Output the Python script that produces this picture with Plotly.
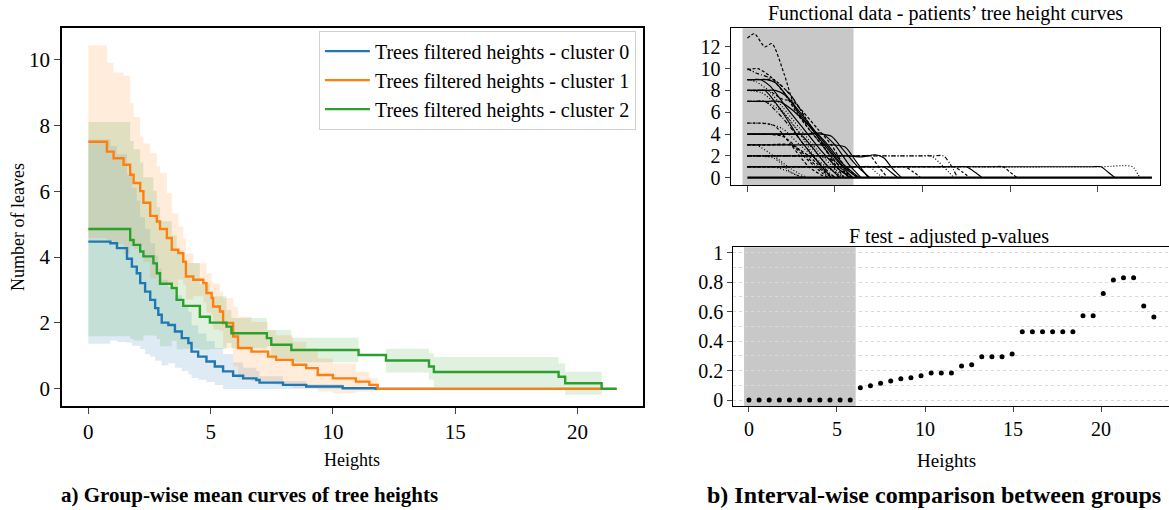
import plotly.graph_objects as go

# ---------------- Left panel data (step means and std) ----------------
blue_x = [0, 0.9, 1.17, 1.58, 1.78, 1.98, 2.12, 2.32, 2.53, 2.73, 2.86, 3.0, 3.27, 3.54, 3.82, 4.09,
          4.22, 4.49, 4.83, 5.17, 5.51, 5.92, 6.33, 6.87, 7.0, 7.96, 8.91, 10.4, 11.76, 21.6]
blue_mean = [4.47, 4.42, 4.27, 3.95, 3.71, 3.51, 3.21, 2.95, 2.70, 2.45, 2.25, 2.01, 1.94, 1.74, 1.54, 1.39,
             1.13, 0.98, 0.83, 0.68, 0.53, 0.40, 0.32, 0.27, 0.19, 0.12, 0.07, 0.02, 0.0, 0.0]
blue_std = [3.1, 2.95, 2.85, 2.55, 2.4, 2.2, 2.0, 1.9, 1.72, 1.6, 1.4, 1.3, 1.16, 1.1, 1.0, 0.95,
            0.8, 0.7, 0.62, 0.56, 0.53, 0.4, 0.32, 0.27, 0.19, 0.12, 0.07, 0.02, 0.0, 0.0]

orange_x = [0, 0.76, 1.03, 1.44, 1.71, 1.85, 2.12, 2.25, 2.53, 2.80, 2.93, 3.21, 3.41, 3.68, 3.88, 3.99,
            4.29, 4.70, 4.83, 5.04, 5.10, 5.38, 5.51, 5.92, 6.12, 6.67, 7.35, 7.68, 8.36, 8.91, 9.38,
            10.0, 10.94, 11.49, 11.83, 21.6]
orange_mean = [7.5, 7.2, 7.0, 6.8, 6.5, 6.25, 6.0, 5.65, 5.25, 5.08, 4.85, 4.58, 4.22, 4.12, 3.86, 3.41,
               3.31, 3.21, 2.91, 2.76, 2.5, 2.35, 2.0, 1.59, 1.24, 1.13, 0.98, 0.88, 0.73, 0.63, 0.42,
               0.32, 0.22, 0.12, 0.0, 0.0]
orange_std = [2.92, 2.7, 2.6, 2.7, 2.17, 2.0, 1.66, 1.8, 1.9, 1.67, 1.7, 1.36, 1.1, 0.8, 0.7, 0.7,
              0.5, 0.6, 0.6, 0.5, 0.7, 0.6, 0.75, 0.9, 0.95, 0.9, 0.8, 0.75, 0.7, 0.6, 0.5,
              0.45, 0.3, 0.2, 0.0, 0.0]

green_x = [0, 1.71, 1.85, 2.12, 2.25, 2.66, 2.80, 2.93, 3.41, 3.61, 3.88, 4.56, 4.97, 5.65, 5.85, 7.3,
           7.48, 8.30, 11.05, 12.17, 13.93, 14.13, 19.23, 19.50, 20.99, 21.6]
green_mean = [4.85, 4.52, 4.37, 4.17, 4.02, 3.81, 3.51, 3.19, 3.06, 2.70, 2.52, 2.19, 2.01, 1.89, 1.69, 1.54,
              1.34, 1.18, 1.03, 0.86, 0.68, 0.51, 0.37, 0.17, 0.0, 0.0]
green_std = [3.25, 3.0, 2.9, 2.7, 2.4, 2.2, 2.0, 1.9, 1.6, 1.5, 1.3, 1.0, 0.8, 0.5, 0.46, 0.25,
             0.45, 0.37, 0.0, 0.36, 0.4, 0.46, 0.4, 0.35, 0.0, 0.0]

cluster_names = ["Trees filtered heights - cluster 0",
                 "Trees filtered heights - cluster 1",
                 "Trees filtered heights - cluster 2"]
cluster_colors = ["#1f77b4", "#ff7f0e", "#2ca02c"]
band_colors = ["rgba(31,119,180,0.15)", "rgba(255,127,14,0.15)", "rgba(44,160,44,0.15)"]

# ---------------- Right-top panel: functional curves (control points) ----------------
curve_x = [
    [0, 0.4, 1.0, 1.4, 2.1, 2.7, 3.5, 4.5, 5.3, 6.0],
    [0, 0.6, 1.3, 2.2, 3.0, 4.0, 5.0, 5.8],
    [0, 0.6, 1.1, 1.6, 2.5, 3.5, 4.5, 5.5, 6.3],
    [0, 0.4, 0.7, 1.3, 2.2, 3.2, 4.2, 5.2, 5.9],
    [0, 0.5, 1.2, 2.0, 3.0, 4.0, 5.0, 5.6],
    [0, 1.0, 1.6, 2.2, 3.0, 4.0, 5.0, 6.0],
    [0, 0.7, 1.2, 2.0, 2.6, 3.2, 4.0, 4.8, 5.5, 6.3],
    [0, 0.8, 1.8, 2.8, 3.8, 4.8, 5.5],
    [0, 1.2, 1.8, 2.5, 3.5, 4.5, 5.5, 6.4],
    [0, 0.5, 1.0, 2.0, 3.0, 4.0, 5.0],
    [0, 0.5, 1.0, 2.0, 3.0, 4.5, 5.5],
    [0, 1.5, 2.5, 3.5, 4.5],
    [0, 1.0, 3.6, 4.2, 4.8, 5.5, 6.3, 7.0],
    [0, 1.0, 2.4, 3.0, 3.6, 4.5, 5.3],
    [0, 2.0, 3.0, 4.0, 4.8],
    [0, 1.0, 4.4, 5.0, 5.6, 6.2, 6.9],
    [0, 1.0, 1.9, 2.5, 3.5, 4.5, 5.1],
    [0, 0.5, 1.5, 2.5, 3.4],
    [0, 1.0, 10.6, 11.2, 11.6, 12.0],
    [0, 1.0, 9.9, 10.5, 11.2, 11.8],
    [0, 1.0, 5.2, 5.8, 6.5, 7.3, 7.8, 8.3, 8.8],
    [0, 1.0, 6.0, 6.5, 7.0, 7.5, 8.0],
    [0, 1.0, 3.0, 4.0, 5.0, 5.6, 6.1],
    [0, 1.5, 2.5, 3.2],
    [0, 1.0, 19.6, 20.2, 20.6, 21.0],
    [0, 1.0, 20.2, 20.8, 21.4, 22.0, 22.4],
    [0, 1.0, 7.2, 7.8, 8.2, 8.6],
    [0, 1.0, 8.4, 9.0, 9.5, 9.9],
    [0, 1.0, 11.9, 12.5, 13.0, 13.4],
    [0, 1.0, 14.0, 14.6, 15.0, 15.4],
    [0, 1.0, 11.2, 11.8, 12.3, 12.7],
    [0, 1.0, 6.4, 7.0, 7.4, 7.8],
    [0, 1.0, 4.4, 5.0, 5.5, 6.0],
    [0, 0.5, 1.0, 2.0, 3.0, 4.0, 4.8],
    [0, 1.0, 1.5, 2.5, 3.5, 4.5, 5.5],
    [0, 0.5, 1.0, 2.0, 3.0, 3.8, 4.6],
    [0, 0.5, 1.5, 2.5, 3.5, 4.5, 5.2],
    [0, 1.0, 3.5, 4.2, 5.0, 5.8, 6.5],
    [0, 1.0, 2.5, 3.2, 4.0, 4.6],
    [0, 0.5, 1.0, 1.5, 2.3, 3.0, 3.6],
    [0, 23.1],
]
curve_y = [
    [12.8, 13.2, 12.0, 12.3, 9.5, 6.5, 4.5, 2.5, 1.0, 0],
    [9.9, 10.0, 9.3, 7.5, 5.5, 3.5, 1.5, 0],
    [9, 9, 9, 8.7, 7.0, 5.0, 3.0, 1.0, 0],
    [9, 9, 9, 8.4, 6.5, 4.5, 2.5, 0.8, 0],
    [9, 8.8, 8.0, 6.5, 4.5, 2.5, 0.8, 0],
    [8, 8, 8, 7.5, 5.8, 3.8, 1.8, 0],
    [8, 8, 8, 7.2, 7.0, 6.0, 4.5, 3.0, 1.2, 0],
    [8, 7.8, 6.5, 4.5, 2.5, 0.8, 0],
    [7, 7, 7, 6.3, 4.8, 3.2, 1.2, 0],
    [7, 7, 7, 5.5, 3.5, 1.5, 0],
    [5, 5, 5, 4.5, 3.0, 1.0, 0],
    [5, 4.8, 3.0, 1.0, 0],
    [4, 4, 4, 4, 3.8, 2.5, 1.0, 0],
    [4, 4, 4, 4, 3.0, 1.2, 0],
    [4, 3.8, 2.5, 1.0, 0],
    [3, 3, 3, 3, 2.8, 1.5, 0],
    [3, 3, 3, 3, 2.0, 0.5, 0],
    [3, 3, 2.0, 0.8, 0],
    [2, 2, 2, 2, 1.2, 0],
    [2, 2, 2, 2, 1.0, 0],
    [2, 2, 2, 2, 1.9, 2.1, 1.8, 0.8, 0],
    [2, 2, 2, 2, 2, 1.0, 0],
    [2, 2, 2, 2, 1.5, 0.5, 0],
    [2, 1.8, 0.5, 0],
    [1, 1, 1, 1, 0.5, 0],
    [1, 1, 1, 1.05, 1.1, 1.0, 0],
    [1, 1, 1, 1, 0.5, 0],
    [1, 1, 1, 1, 0.5, 0],
    [1, 1, 1, 1, 0.5, 0],
    [1, 1, 1, 1, 0.5, 0],
    [1, 1, 1, 1, 0.5, 0],
    [1, 1, 1, 1, 0.4, 0],
    [1, 1, 1, 1, 0.5, 0],
    [8, 8, 8, 6.0, 3.5, 1.5, 0],
    [9, 9, 9, 7.5, 5.0, 2.5, 0],
    [7, 7, 7, 6.0, 4.0, 2.0, 0],
    [10, 9.6, 9.0, 7.5, 5.0, 2.5, 0],
    [4, 4, 4, 4.1, 3.0, 1.2, 0],
    [3, 3, 3, 2.0, 0.8, 0],
    [1, 1, 1, 1, 0.6, 0.1, 0],
    [0, 0],
]
curve_dash = ["dash", "dash", "solid", "solid", "dot", "solid", "dash", "dot", "solid", "dashdot",
              "dot", "dash", "solid", "solid", "dash", "solid", "dash", "dot", "dashdot", "dot",
              "solid", "dash", "dot", "dot", "solid", "dot", "solid", "dash", "solid", "dash",
              "dash", "dot", "dash", "solid", "dash", "dot", "dashdot", "solid", "dash", "dot",
              "solid"]

# ---------------- Right-bottom panel: adjusted p-values ----------------
pv_x = [0.0, 0.575, 1.15, 1.725, 2.3, 2.875, 3.45, 4.025, 4.6, 5.175, 5.75, 6.325, 6.9, 7.475,
        8.05, 8.625, 9.2, 9.775, 10.35, 10.925, 11.5, 12.075, 12.65, 13.225, 13.8, 14.375, 14.95,
        15.525, 16.1, 16.675, 17.25, 17.825, 18.4, 18.975, 19.55, 20.125, 20.7, 21.275, 21.85,
        22.425, 23.0]
pv_y = [0, 0, 0, 0, 0, 0, 0, 0, 0, 0, 0, 0.084, 0.097, 0.115, 0.129, 0.145, 0.152, 0.165, 0.183,
        0.183, 0.183, 0.231, 0.24, 0.294, 0.294, 0.294, 0.312, 0.464, 0.464, 0.464, 0.464, 0.464,
        0.464, 0.572, 0.572, 0.722, 0.814, 0.83, 0.83, 0.638, 0.563]

interval = [-0.28, 6.06]

FONT = "Liberation Serif"
DASHES = {"solid": "solid", "dash": "3px,2px", "dot": "1px,2px", "dashdot": "4px,2px,1px,2px"}
fig = go.Figure()

# Bands
for xs, ms, ss, bc in [(blue_x, blue_mean, blue_std, band_colors[0]),
                       (orange_x, orange_mean, orange_std, band_colors[1]),
                       (green_x, green_mean, green_std, band_colors[2])]:
    lower = [m - s for m, s in zip(ms, ss)]
    upper = [m + s for m, s in zip(ms, ss)]
    fig.add_trace(go.Scatter(x=xs, y=lower, mode="lines", line=dict(width=0, shape="hv"),
                             showlegend=False, hoverinfo="skip", xaxis="x", yaxis="y"))
    fig.add_trace(go.Scatter(x=xs, y=upper, mode="lines", line=dict(width=0, shape="hv"),
                             fill="tonexty", fillcolor=bc, showlegend=False, hoverinfo="skip",
                             xaxis="x", yaxis="y"))

# Mean lines
for xs, ms, name, col in [(blue_x, blue_mean, cluster_names[0], cluster_colors[0]),
                          (orange_x, orange_mean, cluster_names[1], cluster_colors[1]),
                          (green_x, green_mean, cluster_names[2], cluster_colors[2])]:
    fig.add_trace(go.Scatter(x=xs, y=ms, mode="lines", name=name,
                             line=dict(color=col, width=2.4, shape="hv"), xaxis="x", yaxis="y"))

# Functional curves
for xs, ys, d in zip(curve_x, curve_y, curve_dash):
    w = 2.2 if max(ys) == 0 else 1.2
    fig.add_trace(go.Scatter(x=xs, y=ys, mode="lines", showlegend=False,
                             line=dict(color="black", width=w, dash=DASHES[d], shape="spline",
                                       smoothing=0.7),
                             xaxis="x2", yaxis="y2"))

# p-values
fig.add_trace(go.Scatter(x=pv_x, y=pv_y, mode="markers", showlegend=False,
                         marker=dict(color="black", size=5), xaxis="x3", yaxis="y3"))

shapes = []
for xr, yr in [("x2", "y2 domain"), ("x3", "y3 domain")]:
    shapes.append(dict(type="rect", xref=xr, yref=yr, x0=interval[0], x1=interval[1], y0=0, y1=1,
                       fillcolor="#c8c8c8", line=dict(width=0), layer="below"))

tickfont = dict(family=FONT, size=21, color="black")
rtickfont = dict(family=FONT, size=20, color="black")

common = dict(showgrid=False, zeroline=False, automargin=False, showline=True, linecolor="black")

fig.update_layout(
    template="none",
    width=1169, height=510, autosize=False,
    margin=dict(l=0, r=0, t=0, b=0, pad=0),
    paper_bgcolor="white", plot_bgcolor="white",
    font=dict(family=FONT, color="black"),
    shapes=shapes,
    showlegend=True,
    legend=dict(x=0.544, xanchor="right", y=0.94, yanchor="top", traceorder="normal",
                bgcolor="rgba(255,255,255,0.9)", bordercolor="#d0d0d0", borderwidth=1,
                itemwidth=45,
                font=dict(family=FONT, size=20, color="black"), tracegroupgap=0),
    xaxis=dict(domain=[0.0530, 0.5500], range=[-1.08, 22.68], anchor="y",
               tickvals=[0, 5, 10, 15, 20], ticks="outside", ticklen=6, tickwidth=1.3,
               linewidth=1.5, mirror=True, tickfont=tickfont, **common),
    yaxis=dict(domain=[0.2039, 0.945], range=[-0.52, 10.95], anchor="x",
               tickvals=[0, 2, 4, 6, 8, 10], ticks="outside", ticklen=6, tickwidth=1.3,
               linewidth=1.5, mirror=True, tickfont=tickfont, **common),
    xaxis2=dict(domain=[0.6251, 0.9923], range=[-0.95, 23.56], anchor="y2",
                tickvals=[0, 5, 10, 15, 20], showticklabels=False, ticks="outside", ticklen=6,
                linewidth=1.3, mirror=True, **common),
    yaxis2=dict(domain=[0.6373, 0.9445], range=[-0.67, 13.7], anchor="x2",
                tickvals=[0, 2, 4, 6, 8, 10, 12], ticks="outside", ticklen=5,
                linewidth=1.3, mirror=True, tickfont=rtickfont, **common),
    xaxis3=dict(domain=[0.6273, 1.0], range=[-0.89, 23.86], anchor="y3",
                tickvals=[0, 5, 10, 15, 20], ticks="outside", ticklen=5,
                linewidth=1.3, mirror=True, tickfont=rtickfont, **common),
    yaxis3=dict(domain=[0.2039, 0.5151], range=[-0.04, 1.036], anchor="x3",
                tickvals=[0, 0.2, 0.4, 0.6, 0.8, 1.0], ticktext=["0", "0.2", "0.4", "0.6", "0.8", "1"],
                ticks="outside", ticklen=5,
                showline=True, linecolor="black", linewidth=1.3, mirror=False,
                showgrid=True, gridcolor="#d9d9d9", griddash="dot", gridwidth=1,
                minor=dict(dtick=0.1, tick0=0, showgrid=True, gridcolor="#d9d9d9",
                           griddash="dot", gridwidth=1, ticks=""),
                zeroline=False, automargin=False, tickfont=rtickfont),
)

ann = [
    dict(text="Heights", x=0.301, y=0.098, size=18),
    dict(text="Heights", x=0.810, y=0.098, size=19),
    dict(text="Functional data - patients’ tree height curves", x=0.809, y=0.9745, size=20),
    dict(text="F test - adjusted p-values", x=0.812, y=0.537, size=20),
    dict(text="<b>a) Group-wise mean curves of tree heights</b>", x=0.2134, y=0.029, size=21),
    dict(text="<b>b) Interval-wise comparison between groups</b>", x=0.799, y=0.029, size=24),
]
for a in ann:
    fig.add_annotation(text=a["text"], x=a["x"], y=a["y"], xref="paper", yref="paper",
                       xanchor="center", yanchor="middle", showarrow=False,
                       font=dict(family=FONT, size=a["size"], color="black"))
fig.add_annotation(text="Number of leaves", x=0.0154, y=0.555, xref="paper", yref="paper",
                   xanchor="center", yanchor="middle", showarrow=False, textangle=-90,
                   font=dict(family=FONT, size=18, color="black"))

fig.write_html("out.html")
